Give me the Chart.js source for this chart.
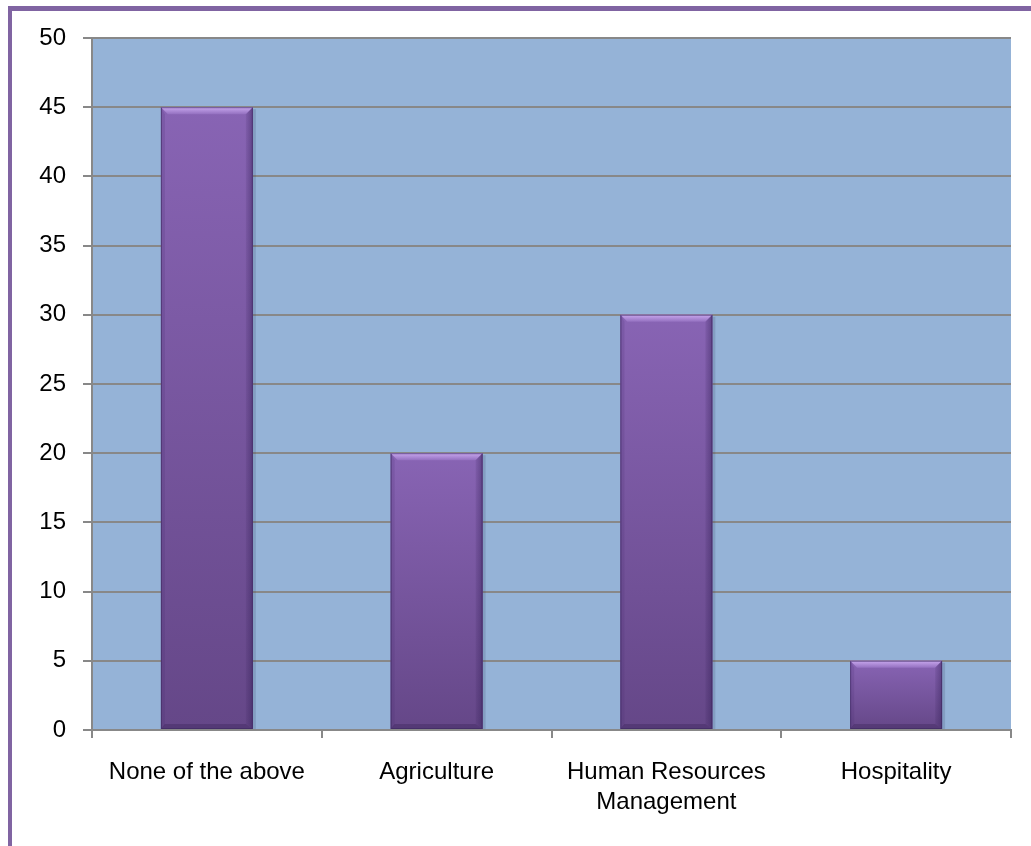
<!DOCTYPE html>
<html>
<head>
<meta charset="utf-8">
<script src="https://cdn.jsdelivr.net/npm/chart.js@4/dist/chart.umd.min.js"></script>
<style>
  html, body { margin: 0; padding: 0; background: #ffffff; overflow: hidden; }
  #frame {
    position: absolute; left: 8px; top: 6px; width: 1200px; height: 1000px;
    border-left: 4px solid #8064a2; border-top: 5px solid #8064a2;
  }
  #wrap { position: absolute; left: 0; top: 0; width: 1031px; height: 846px; }
</style>
</head>
<body>
<div id="frame"></div>
<div id="wrap"><canvas id="chart" width="1031" height="846"></canvas></div>
<script>
// Categories and values
const categories = ["None of the above", "Agriculture", ["Human Resources", "Management"], "Hospitality"];
const counts = [45, 20, 30, 5];
const yTicks = [0, 5, 10, 15, 20, 25, 30, 35, 40, 45, 50];

const FONT = "'Liberation Sans', Arial, sans-serif";

// Light-blue plot background
const plotBackground = {
  id: 'plotBackground',
  beforeDraw(chart) {
    const { ctx, chartArea: a } = chart;
    ctx.save();
    ctx.fillStyle = '#95b3d7';
    ctx.fillRect(a.left, a.top, a.right - a.left, a.bottom - a.top);
    ctx.restore();
  }
};

// Bevelled look for each bar, using the positions the bar elements already have
const bevelBars = {
  id: 'bevelBars',
  afterDatasetsDraw(chart) {
    const ctx = chart.ctx;
    const meta = chart.getDatasetMeta(0);
    meta.data.forEach(bar => {
      const { x, y, base, width } = bar.getProps(['x', 'y', 'base', 'width'], true);
      const l = x - width / 2, r = x + width / 2, t = y, b = base;
      const bv = 7;
      ctx.save();
      // soft shadow on the right
      ctx.fillStyle = 'rgba(40,50,80,0.16)';
      ctx.fillRect(r, t + 2, 3, b - t - 2);
      // body
      const g = ctx.createLinearGradient(0, t, 0, b);
      g.addColorStop(0, '#8864b4');
      g.addColorStop(1, '#654788');
      ctx.fillStyle = g;
      ctx.fillRect(l, t, width, b - t);
      // top bevel
      const gt = ctx.createLinearGradient(0, t, 0, t + bv);
      gt.addColorStop(0, '#c8a8ee');
      gt.addColorStop(1, '#9470c0');
      ctx.fillStyle = gt;
      ctx.beginPath();
      ctx.moveTo(l, t); ctx.lineTo(r, t); ctx.lineTo(r - bv, t + bv); ctx.lineTo(l + bv, t + bv);
      ctx.closePath(); ctx.fill();
      // left bevel
      ctx.fillStyle = 'rgba(70,45,110,0.18)';
      ctx.beginPath();
      ctx.moveTo(l, t); ctx.lineTo(l + 4, t + bv); ctx.lineTo(l + 4, b - 4); ctx.lineTo(l, b);
      ctx.closePath(); ctx.fill();
      // right bevel
      const gr = ctx.createLinearGradient(r - bv, 0, r, 0);
      gr.addColorStop(0, 'rgba(50,30,85,0.1)');
      gr.addColorStop(1, 'rgba(50,30,85,0.45)');
      ctx.fillStyle = gr;
      ctx.beginPath();
      ctx.moveTo(r, t); ctx.lineTo(r - bv, t + bv); ctx.lineTo(r - bv, b - 5); ctx.lineTo(r, b);
      ctx.closePath(); ctx.fill();
      // bottom bevel
      ctx.fillStyle = 'rgba(45,28,75,0.3)';
      ctx.beginPath();
      ctx.moveTo(l, b); ctx.lineTo(l + 4, b - 5); ctx.lineTo(r - bv, b - 5); ctx.lineTo(r, b);
      ctx.closePath(); ctx.fill();
      // outline
      ctx.strokeStyle = 'rgba(60,40,95,0.6)';
      ctx.lineWidth = 1;
      ctx.strokeRect(l + 0.5, t + 0.5, width - 1, b - t - 1);
      ctx.restore();
    });
  }
};

new Chart(document.getElementById('chart'), {
  type: 'bar',
  data: {
    labels: categories,
    datasets: [{
      data: counts,
      backgroundColor: '#7656a0',
      borderWidth: 0,
      categoryPercentage: 0.4,
      barPercentage: 1.0
    }]
  },
  options: {
    responsive: false,
    animation: false,
    layout: { padding: { left: 0, top: 38, right: 20, bottom: 0 } },
    plugins: { legend: { display: false }, tooltip: { enabled: false } },
    scales: {
      x: {
        afterFit(scale) { scale.height = 116; },
        grid: { drawOnChartArea: false, drawTicks: true, tickLength: 8, color: '#888888', lineWidth: 2, offset: true },
        border: { display: true, color: '#888888', width: 2 },
        ticks: {
          color: '#000000', padding: 20, maxRotation: 0, autoSkip: false,
          font: { family: FONT, size: 24, lineHeight: 1.22 }
        }
      },
      y: {
        min: 0, max: 50,
        afterFit(scale) { scale.width = 92; },
        afterBuildTicks(scale) { scale.ticks = yTicks.map(v => ({ value: v })); },
        grid: { color: '#888888', lineWidth: 2, tickLength: 9 },
        border: { display: true, color: '#888888', width: 2 },
        ticks: {
          color: '#000000', padding: 17,
          font: { family: FONT, size: 24 }
        }
      }
    }
  },
  plugins: [plotBackground, bevelBars]
});
</script>
</body>
</html>
